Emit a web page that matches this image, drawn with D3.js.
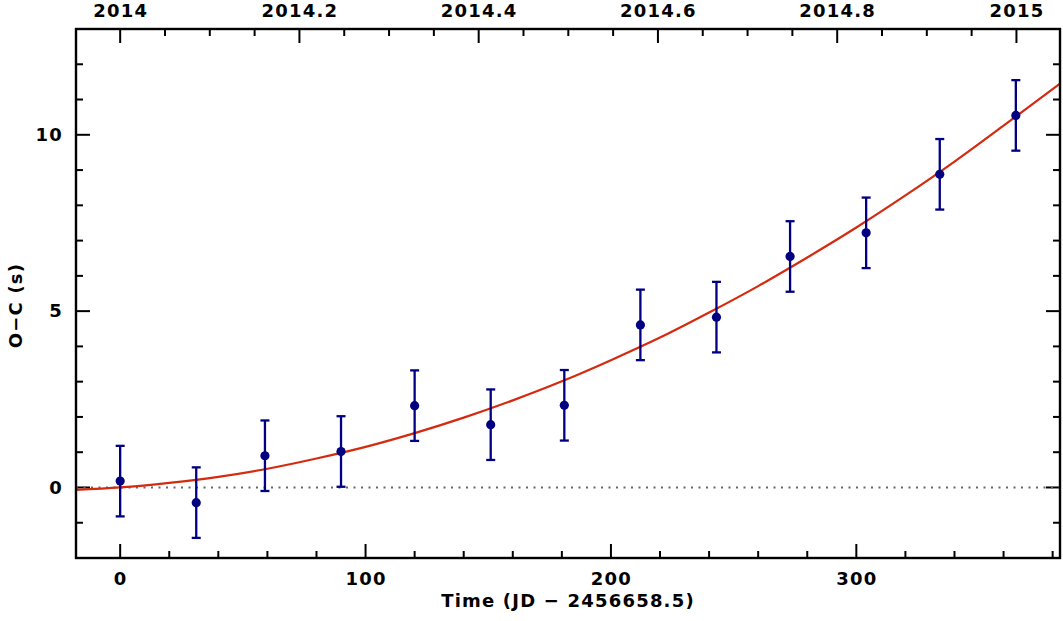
<!DOCTYPE html>
<html>
<head>
<meta charset="utf-8">
<script src="https://cdn.jsdelivr.net/npm/d3@7"></script>
<style>
  html, body { margin: 0; padding: 0; background: #fff; }
  svg { display: block; }
  text { font-family: "DejaVu Sans", sans-serif; fill: #000; }
</style>
</head>
<body>
<svg id="chart" width="1063" height="621"></svg>
<script>
// ---- data ----
const days = [0, 31, 59, 90, 120, 151, 181, 212, 243, 273, 304, 334, 365];
const oc   = [0.18, -0.43, 0.90, 1.02, 2.32, 1.78, 2.33, 4.61, 4.83, 6.55, 7.22, 8.88, 10.55];
const ocErr = [1.0, 1.0, 1.0, 1.0, 1.0, 1.0, 1.0, 1.0, 1.0, 1.0, 1.0, 1.0, 1.0];
// fitted model curve
const curveDays = [-18, 0, 20, 40, 60, 80, 100, 120, 140, 160, 180, 200, 220, 240, 260, 280, 300, 320, 340, 360, 383];
const curveOC   = [-0.07, 0.0, 0.13, 0.30, 0.53, 0.82, 1.15, 1.54, 1.98, 2.47, 3.01, 3.61, 4.25, 4.96, 5.71, 6.52, 7.37, 8.28, 9.24, 10.26, 11.45];
const xTicks = [0, 100, 200, 300];
const yTicks = [0, 5, 10];
const yearTicks = [2014, 2014.2, 2014.4, 2014.6, 2014.8, 2015];
const yearLabels = ["2014", "2014.2", "2014.4", "2014.6", "2014.8", "2015"];
const xLabel = "Time (JD \u2212 2456658.5)";
const yLabel = "O\u2212C (s)";

// ---- layout ----
const L = 76, R = 1060, T = 29, B = 558;
const FS = 18, LS = 1.2;
const svg = d3.select("#chart");

const x = d3.scaleLinear().domain([-18, 383]).range([L, R]);
const y = d3.scaleLinear().domain([-2, 13]).range([B, T]);
const yr = d3.scaleLinear().domain([2014 + (-18) / 365.25, 2014 + 383 / 365.25]).range([L, R]);

const major = 14, minor = 7;

const xMinor = d3.range(0, 381, 20).filter(v => !xTicks.includes(v));
const yMinor = d3.range(-2, 14, 1).filter(v => !yTicks.includes(v) && v > -2 && v < 13);
const yrMinor = d3.range(0, 21, 1).map(i => 2014 + i * 0.05).filter(v => !yearTicks.some(t => Math.abs(t - v) < 1e-6));

function styleText(g) {
  g.selectAll("text").attr("font-size", FS).attr("font-weight", "bold")
    .attr("letter-spacing", LS)
    .style("font-family", '"DejaVu Sans", sans-serif');
}

// bottom axis labels
const gb = svg.append("g").attr("transform", `translate(0,${B})`)
  .call(d3.axisBottom(x).tickValues(xTicks).tickSize(0).tickPadding(14).tickFormat(d3.format("d")));
gb.select(".domain").remove();
styleText(gb);

// top axis labels
const gt = svg.append("g").attr("transform", `translate(0,${T})`)
  .call(d3.axisTop(yr).tickValues(yearTicks).tickSize(0).tickPadding(12).tickFormat((d, i) => yearLabels[i]));
gt.select(".domain").remove();
styleText(gt);

// left axis labels
const gl = svg.append("g").attr("transform", `translate(${L},0)`)
  .call(d3.axisLeft(y).tickValues(yTicks).tickSize(0).tickPadding(13).tickFormat(d3.format("d")));
gl.select(".domain").remove();
styleText(gl);

// ticks (inward)
const tk = svg.append("g").attr("stroke", "#000").attr("stroke-width", 2);
xTicks.forEach(v => tk.append("line").attr("x1", x(v)).attr("x2", x(v)).attr("y1", B).attr("y2", B - major));
xMinor.forEach(v => tk.append("line").attr("x1", x(v)).attr("x2", x(v)).attr("y1", B).attr("y2", B - minor));
yearTicks.forEach(v => tk.append("line").attr("x1", yr(v)).attr("x2", yr(v)).attr("y1", T).attr("y2", T + major));
yrMinor.forEach(v => tk.append("line").attr("x1", yr(v)).attr("x2", yr(v)).attr("y1", T).attr("y2", T + minor));
yTicks.forEach(v => {
  tk.append("line").attr("x1", L).attr("x2", L + major).attr("y1", y(v)).attr("y2", y(v));
  tk.append("line").attr("x1", R).attr("x2", R - major).attr("y1", y(v)).attr("y2", y(v));
});
yMinor.forEach(v => {
  tk.append("line").attr("x1", L).attr("x2", L + minor).attr("y1", y(v)).attr("y2", y(v));
  tk.append("line").attr("x1", R).attr("x2", R - minor).attr("y1", y(v)).attr("y2", y(v));
});

// clip
svg.append("clipPath").attr("id", "clip").append("rect")
  .attr("x", L).attr("y", T).attr("width", R - L).attr("height", B - T);
const plot = svg.append("g").attr("clip-path", "url(#clip)");

// zero dotted line
plot.append("line").attr("x1", L).attr("x2", R).attr("y1", y(0)).attr("y2", y(0))
  .attr("stroke", "#666").attr("stroke-width", 2).attr("stroke-dasharray", "2,5.5");

// model curve
plot.append("path")
  .datum(curveDays.map((d, i) => [d, curveOC[i]]))
  .attr("fill", "none").attr("stroke", "#d42a10").attr("stroke-width", 2.2)
  .attr("d", d3.line().x(d => x(d[0])).y(d => y(d[1])).curve(d3.curveCatmullRom));

// error bars
const pts = days.map((d, i) => ({ t: d, v: oc[i], e: ocErr[i] }));
const eb = plot.append("g").attr("stroke", "#000080").attr("stroke-width", 2.3).attr("fill", "none");
pts.forEach(p => {
  eb.append("line").attr("x1", x(p.t)).attr("x2", x(p.t)).attr("y1", y(p.v - p.e)).attr("y2", y(p.v + p.e));
  eb.append("line").attr("x1", x(p.t) - 4.5).attr("x2", x(p.t) + 4.5).attr("y1", y(p.v - p.e)).attr("y2", y(p.v - p.e));
  eb.append("line").attr("x1", x(p.t) - 4.5).attr("x2", x(p.t) + 4.5).attr("y1", y(p.v + p.e)).attr("y2", y(p.v + p.e));
});
plot.append("g").selectAll("circle").data(pts).join("circle")
  .attr("cx", p => x(p.t)).attr("cy", p => y(p.v)).attr("r", 4.6).attr("fill", "#000080");

// frame
svg.append("rect").attr("x", L).attr("y", T).attr("width", R - L).attr("height", B - T)
  .attr("fill", "none").attr("stroke", "#000").attr("stroke-width", 2.4);

// axis titles
svg.append("text").attr("x", (L + R) / 2).attr("y", 607).attr("text-anchor", "middle")
  .attr("font-size", FS).attr("font-weight", "bold").attr("letter-spacing", LS).text(xLabel);
svg.append("text").attr("transform", `translate(22,${(T + B) / 2 + 12}) rotate(-90)`)
  .attr("text-anchor", "middle").attr("font-size", FS).attr("font-weight", "bold").attr("letter-spacing", LS).text(yLabel);
</script>
</body>
</html>
